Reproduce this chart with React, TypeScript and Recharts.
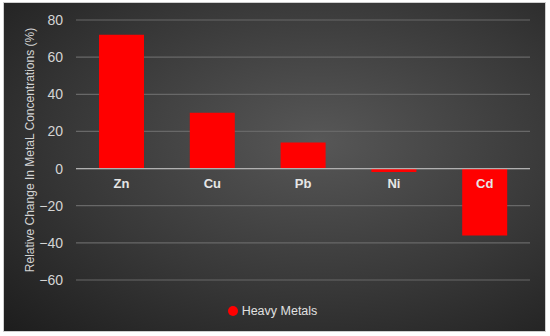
import { BarChart, Bar, XAxis, YAxis, CartesianGrid, Legend, ReferenceLine, LabelList } from 'recharts';

const metals = ['Zn', 'Cu', 'Pb', 'Ni', 'Cd'];
const relativeChange = [72, 30, 14, -1.8, -36];
const yTicks = [-60, -40, -20, 0, 20, 40, 60, 80];

const data = metals.map((name, i) => ({ name, value: relativeChange[i] }));

const formatTick = (v: number): string => String(v).replace('-', '\u2212');

// category names sit just under the zero line, not at the bottom of the plot
const CategoryLabel = (props: any) => {
  const { x, y, width, height, value } = props;
  return (
    <text
      x={x + width / 2}
      y={y + height + 19}
      textAnchor="middle"
      fill="#e6e6e6"
      fontSize={13}
      fontWeight="bold"
      fontFamily="Liberation Sans, Arial, sans-serif"
    >
      {value}
    </text>
  );
};

export default function App() {
  return (
    <div
      style={{
        position: 'absolute',
        left: 3,
        top: 2,
        width: 541,
        height: 328,
        border: '1px solid #cfcfcf',
        background: 'radial-gradient(ellipse at 58% 42%, #575757 0%, #383838 55%, #1d1d1d 100%)',
        fontFamily: 'Liberation Sans, Arial, sans-serif',
      }}
    >
      <BarChart width={541} height={328} data={data} margin={{ top: 17, right: 15, left: 21, bottom: 33 }}>
        <CartesianGrid vertical={false} stroke="#686868" strokeWidth={1.2} />
        <XAxis dataKey="name" hide />
        <YAxis
          domain={[-60, 80]}
          ticks={yTicks}
          width={51}
          tickFormatter={formatTick}
          tick={{ fontSize: 14, fill: '#d4d4d4' }}
          tickLine={false}
          axisLine={false}
          tickSize={6}
          tickMargin={7}
          label={{
            value: 'Relative Change In MetaL Concentrations (%)',
            angle: -90,
            position: 'insideLeft',
            offset: 5,
            style: { textAnchor: 'middle', fill: '#d4d4d4', fontSize: 12 },
          }}
        />
        <ReferenceLine y={0} stroke="#b0b0b0" strokeWidth={1.2} />
        <Legend
          verticalAlign="bottom"
          iconType="circle"
          iconSize={10}
          wrapperStyle={{ bottom: 12 }}
          formatter={(v: string) => (
            <span style={{ color: '#e0e0e0', fontSize: 12.5 }}>{v}</span>
          )}
        />
        <Bar dataKey="value" name="Heavy Metals" fill="#ff0000" barSize={45} isAnimationActive={false}>
          <LabelList dataKey="name" content={CategoryLabel} />
        </Bar>
      </BarChart>
    </div>
  );
}
